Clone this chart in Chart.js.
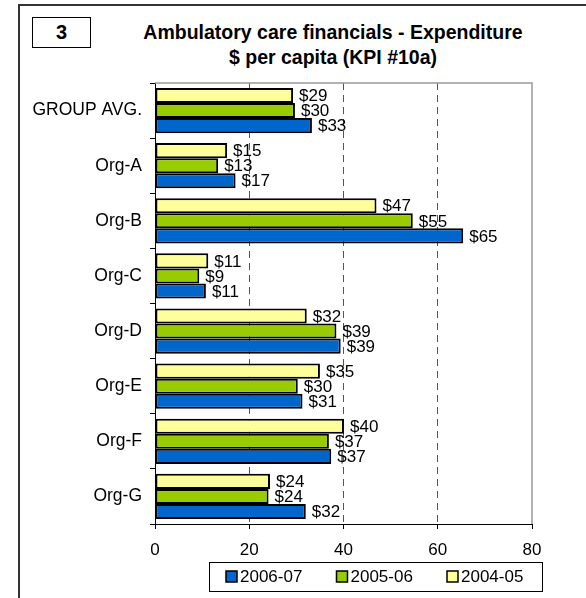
<!DOCTYPE html>
<html>
<head>
<meta charset="utf-8">
<script src="https://cdn.jsdelivr.net/npm/chart.js@4"></script>
<style>
    body { margin: 0; background: #fff; font-family: "Liberation Sans", Arial, sans-serif; }
    #wrap { position: relative; width: 586px; height: 598px; overflow: hidden; }
    #frame { position: absolute; left: 18px; top: 4px; width: 700px; height: 700px; border-left: 2px solid #333; border-top: 2px solid #333; }
    #num { position: absolute; left: 32px; top: 17px; width: 57px; height: 29px; border: 1.5px solid #000; font-weight: bold; font-size: 20px; text-align: center; line-height: 29px; }
    #title { position: absolute; left: 80px; width: 506px; top: 20px; text-align: center; font-weight: bold; font-size: 19.5px; line-height: 25px; }
    canvas { position: absolute; left: 0; top: 0; }
</style>
</head>
<body>
<div id="wrap">
    <div id="frame"></div>
    <div id="num">3</div>
    <div id="title">Ambulatory care financials - Expenditure<br>$ per capita (KPI #10a)</div>
    <canvas id="chart" width="586" height="598"></canvas>
</div>
<script>
const categories = ['GROUP AVG.', 'Org-A', 'Org-B', 'Org-C', 'Org-D', 'Org-E', 'Org-F', 'Org-G'];
const values0607 = [33.3, 17.1, 65.4, 10.8, 39.4, 31.3, 37.4, 32.0];
const values0506 = [29.7, 13.4, 54.7, 9.4, 38.5, 30.3, 36.9, 24.1];
const values0405 = [29.3, 15.3, 47.0, 11.3, 32.2, 35.0, 40.1, 24.4];
const xTicks = [0, 20, 40, 60, 80];

const FONT = '"Liberation Sans", Arial, sans-serif';

// value labels at the end of each bar
const barLabels = {
    id: 'barLabels',
    afterDatasetsDraw(chart) {
        const ctx = chart.ctx;
        ctx.save();
        ctx.font = '17px ' + FONT;
        ctx.fillStyle = '#000';
        ctx.textBaseline = 'middle';
        chart.data.datasets.forEach((ds, i) => {
            chart.getDatasetMeta(i).data.forEach((bar, j) => {
                ctx.fillText('$' + Math.round(ds.data[j]), bar.x + 6, bar.y + 1);
            });
        });
        ctx.restore();
    }
};

// gray frame on top and right of the plot area, plus boxed legend
const extras = {
    id: 'extras',
    beforeDatasetsDraw(chart) {
        const { ctx, chartArea } = chart;
        ctx.save();
        ctx.strokeStyle = '#999';
        ctx.lineWidth = 1.5;
        ctx.beginPath();
        ctx.moveTo(chartArea.left, chartArea.top);
        ctx.lineTo(chartArea.right, chartArea.top);
        ctx.lineTo(chartArea.right, chartArea.bottom);
        ctx.stroke();
        ctx.restore();
    },
    afterDraw(chart) {
        const ctx = chart.ctx;
        ctx.save();
        ctx.strokeStyle = '#000';
        ctx.lineWidth = 1;
        ctx.strokeRect(209.5, 562.5, 333, 29);
        ctx.font = '17px ' + FONT;
        ctx.textBaseline = 'middle';
        const items = chart.data.datasets.slice().reverse();
        items.forEach((ds, i) => {
            const x = 226 + i * 110.5;
            ctx.fillStyle = ds.backgroundColor;
            ctx.fillRect(x, 571, 11, 11);
            ctx.strokeStyle = '#000';
            ctx.lineWidth = 1.5;
            ctx.strokeRect(x, 571, 11, 11);
            ctx.fillStyle = '#000';
            ctx.fillText(ds.label, x + 14, 577);
        });
        ctx.restore();
    }
};

new Chart(document.getElementById('chart'), {
    type: 'bar',
    data: {
        labels: categories,
        datasets: [
            { label: '2004-05', data: values0405, backgroundColor: '#FFFF99' },
            { label: '2005-06', data: values0506, backgroundColor: '#99CC00' },
            { label: '2006-07', data: values0607, backgroundColor: '#0066CC' }
        ].map(d => Object.assign(d, {
            borderColor: '#000',
            borderWidth: 2,
            borderSkipped: false,
            categoryPercentage: 0.82,
            barPercentage: 1
        }))
    },
    options: {
        indexAxis: 'y',
        responsive: false,
        animation: false,
        layout: { padding: { top: 83, left: 0, right: 54, bottom: 34 } },
        plugins: { legend: { display: false }, tooltip: { enabled: false } },
        scales: {
            x: {
                min: 0,
                max: 80,
                afterFit: s => { s.height = 40; },
                afterBuildTicks: s => { s.ticks = xTicks.map(v => ({ value: v })); },
                border: { display: true, color: '#000', width: 1, dash: [7, 5] },
                grid: {
                    color: c => (c.tick && (c.tick.value === 0 || c.tick.value === 80)) ? 'rgba(0,0,0,0)' : '#555',
                    lineWidth: 1,
                    tickColor: '#000',
                    tickLength: 5,
                    tickBorderDash: []
                },
                ticks: { color: '#000', font: { size: 17, family: FONT }, padding: 11, maxRotation: 0 }
            },
            y: {
                afterFit: s => { s.width = 155; },
                border: { display: true, color: '#000', width: 1 },
                grid: { offset: true, drawOnChartArea: false, tickLength: 5, tickColor: '#000', color: '#000' },
                ticks: { color: '#000', font: { size: 17.5, family: FONT }, padding: 8 }
            }
        }
    },
    plugins: [barLabels, extras]
});
</script>
</body>
</html>
